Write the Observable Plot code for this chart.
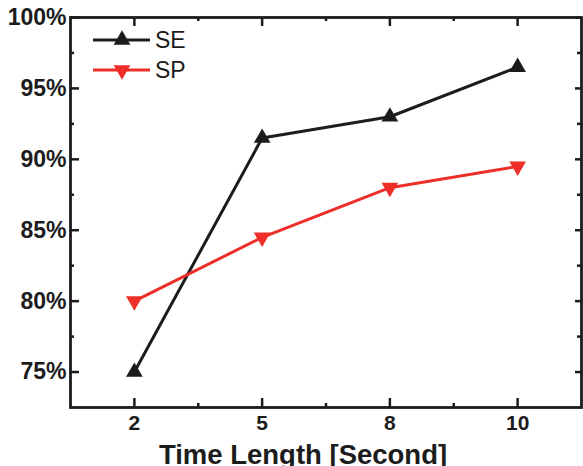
<!DOCTYPE html>
<html><head><meta charset="utf-8">
<script src="https://cdn.jsdelivr.net/npm/d3@7"></script>
<script src="https://cdn.jsdelivr.net/npm/@observablehq/plot@0.6"></script>
<style>body{margin:0;background:#fff} #chart{width:583px;height:466px}</style>
</head><body><div id="chart"></div><script>
const categories = ["2", "5", "8", "10"];
const seValues = [75, 91.5, 93, 96.5];
const spValues = [80, 84.5, 88, 89.5];
const yTicks = [75, 80, 85, 90, 95, 100];
const yMinorTicks = [77.5, 82.5, 87.5, 92.5, 97.5];
const xLabel = "Time Length [Second]";
const seriesNames = ["SE", "SP"];

const BLACK = "#1c1c1c", RED = "#ee2e28";
const W = 583, H = 466, ML = 70, MR = 2, MT = 17, MB = 59;
const PW = W - ML - MR, PH = H - MT - MB;
const FONT = "'Liberation Sans', Arial, sans-serif";

const xIdx = categories.map((c, i) => i);
const xMinor = xIdx.slice(1).map(i => i - 0.5);
const se = categories.map((c, i) => ({i, v: seValues[i]}));
const sp = categories.map((c, i) => ({i, v: spValues[i]}));

const tickStyle = {stroke: BLACK, strokeWidth: 2.5};
const plot = Plot.plot({
  width: W, height: H,
  marginLeft: ML, marginRight: MR, marginTop: MT, marginBottom: MB,
  style: {fontFamily: FONT, background: "#fff", color: BLACK},
  x: {domain: [-0.5, categories.length - 0.5]},
  y: {domain: [72.5, 100]},
  marks: [
    Plot.ruleY(yTicks, {...tickStyle, insetRight: PW - 9}),
    Plot.ruleY(yMinorTicks, {...tickStyle, insetRight: PW - 4}),
    Plot.ruleY(yTicks, {...tickStyle, insetLeft: PW - 6}),
    Plot.ruleY(yMinorTicks, {...tickStyle, insetLeft: PW - 4}),
    Plot.ruleX(xIdx, {...tickStyle, insetTop: PH - 9}),
    Plot.ruleX(xMinor, {...tickStyle, insetTop: PH - 4}),
    Plot.ruleX(xIdx, {...tickStyle, insetBottom: PH - 9}),
    Plot.ruleX(xMinor, {...tickStyle, insetBottom: PH - 4}),
    Plot.frame({stroke: BLACK, strokeWidth: 2.8}),
    Plot.line(se, {x: "i", y: "v", stroke: BLACK, strokeWidth: 3}),
    Plot.line(sp, {x: "i", y: "v", stroke: RED, strokeWidth: 3}),
    Plot.dot(se, {x: "i", y: "v", symbol: "triangle", r: 6.2, fill: BLACK}),
    Plot.dot(sp, {x: "i", y: "v", symbol: "triangle", r: 6.2, fill: RED, rotate: 180}),
    Plot.axisY(yTicks, {tickSize: 0, tickPadding: 4, fontSize: 23, fontWeight: "bold", tickFormat: d => d + "%", label: null}),
    Plot.axisX(xIdx, {tickSize: 0, tickPadding: 8, fontSize: 21, fontWeight: "bold", tickFormat: i => categories[i], label: null}),
    Plot.text([xLabel], {text: d => d, frameAnchor: "bottom", lineAnchor: "bottom", dy: 56, dx: -23, fontSize: 27.5, fontWeight: "bold", fill: BLACK})
  ]
});
document.getElementById("chart").appendChild(plot);

// legend
const svg = d3.select(plot);
const lg = svg.append("g").attr("font-family", FONT).attr("text-anchor", "start");
const tri = d3.symbol(d3.symbolTriangle, Math.PI * 6.2 * 6.2)();
[[seriesNames[0], BLACK, 0, 40], [seriesNames[1], RED, 180, 70]].forEach(([name, col, rot, y]) => {
  lg.append("line").attr("x1", 93).attr("x2", 150).attr("y1", y).attr("y2", y)
    .attr("stroke", col).attr("stroke-width", 3);
  lg.append("path").attr("d", tri).attr("fill", col)
    .attr("transform", `translate(122,${y}) rotate(${rot})`);
  lg.append("text").attr("x", 155).attr("y", y).attr("dy", "0.35em")
    .attr("text-anchor", "start")
    .attr("font-size", 23).attr("fill", BLACK).text(name);
});
</script></body></html>
